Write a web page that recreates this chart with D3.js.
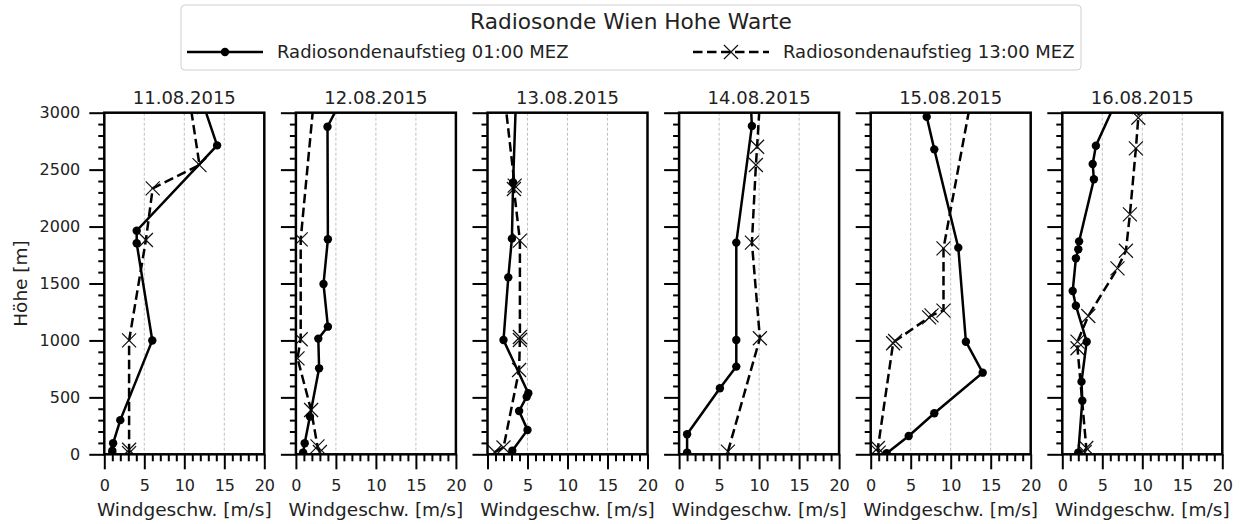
<!DOCTYPE html>
<html>
<head>
<meta charset="utf-8">
<script src="https://cdn.jsdelivr.net/npm/d3@7"></script>
<style>
  body { margin: 0; background: #fff; }
  text { font-family: "DejaVu Sans", sans-serif; fill: #222; }
</style>
</head>
<body>
<svg id="chart" width="1242" height="524"></svg>
<script>
// Radiosonde Wien Hohe Warte, Windgeschwindigkeit [m/s] gegen Höhe [m]
const days = ['11.08.2015', '12.08.2015', '13.08.2015', '14.08.2015', '15.08.2015', '16.08.2015']

// [windgeschw, hoehe] per day, Aufstieg 01:00 MEZ (points above 3000 m are clipped)
const aufstieg01 = [
  [[1.0, 10], [1.0, 32], [1.1, 97], [2.0, 300], [6.0, 1000], [4.05, 1853], [4.05, 1964], [14.1, 2713], [12.0, 3150]],
  [[0.9, 15], [1.1, 97], [1.75, 331], [2.9, 755], [2.8, 1016], [4.0, 1121], [3.45, 1496], [4.0, 1888], [3.95, 2877], [5.3, 3060]],
  [[3.1, 32], [5.0, 214], [3.95, 380], [4.9, 506], [5.1, 536], [2.0, 1004], [2.6, 1554], [3.05, 1894], [3.2, 2388], [3.55, 3100]],
  [[1.0, 15], [1.0, 176], [5.1, 580], [7.15, 770], [7.15, 1004], [7.15, 1859], [9.1, 2883], [8.95, 3100]],
  [[2.0, 9], [4.75, 161], [7.95, 360], [14.0, 717], [11.9, 989], [10.95, 1815], [7.95, 2678], [7.0, 2965], [6.8, 3100]],
  [[2.0, 15], [2.5, 471], [2.4, 638], [3.05, 989], [1.7, 1305], [1.3, 1434], [1.7, 1721], [2.0, 1800], [2.1, 1870],
   [3.95, 2415], [3.8, 2549], [4.2, 2710], [6.6, 3080]]
]

// Aufstieg 13:00 MEZ
const aufstieg13 = [
  [[3.1, 10], [3.1, 40], [3.1, 1000], [5.2, 1882], [6.05, 2336], [11.9, 2540], [10.8, 3050]],
  [[3.0, 20], [2.7, 70], [1.9, 389], [0.2, 843], [0.6, 1010], [0.6, 1888], [2.2, 3080]],
  [[0.9, 20], [2.0, 60], [3.95, 740], [4.05, 1004], [4.05, 1030], [4.05, 1876], [3.3, 2330], [3.4, 2360], [2.2, 3100]],
  [[6.1, 23], [10.1, 1019], [9.1, 1859], [9.6, 2541], [9.75, 2701], [10.1, 3100]],
  [[1.0, 15], [0.9, 55], [2.8, 975], [3.05, 995], [7.3, 1203], [7.6, 1220], [9.1, 1262], [9.1, 1809], [12.5, 3100]],
  [[2.8, 20], [3.0, 55], [1.9, 931], [1.9, 989], [3.25, 1215], [6.9, 1633], [7.95, 1788], [8.45, 2107], [9.2, 2687],
   [9.5, 2956], [9.6, 3050]]
]

const xTicks = [0, 5, 10, 15, 20]
const yTicks = [0, 500, 1000, 1500, 2000, 2500, 3000]
const legendTitle = 'Radiosonde Wien Hohe Warte'
const legendLabels = ['Radiosondenaufstieg 01:00 MEZ', 'Radiosondenaufstieg 13:00 MEZ']

const svg = d3.select('#chart')

const plotTop = 112.7, plotBottom = 454.3
const panelLeft = 104.3, panelStep = 191.6, panelW = 160

const xMarker = 'M-7,-7L7,7M-7,7L7,-7'
const dash = '9.5,4.5'

days.forEach((day, i) => {
  const left = panelLeft + i * panelStep
  const x = d3.scaleLinear().domain([0, 20]).range([left, left + panelW])
  const y = d3.scaleLinear().domain([0, 3000]).range([plotBottom, plotTop])

  const g = svg.append('g').attr('class', 'panel')

  g.append('clipPath').attr('id', `clip-${i}`)
    .append('rect')
    .attr('x', left).attr('y', plotTop)
    .attr('width', panelW).attr('height', plotBottom - plotTop)

  // grid
  g.append('g').selectAll('line')
    .data([5, 10, 15])
    .enter().append('line')
    .attr('x1', (d) => x(d)).attr('x2', (d) => x(d))
    .attr('y1', plotTop).attr('y2', plotBottom)
    .attr('stroke', '#b0b0b0')
    .attr('stroke-width', 0.8)
    .attr('stroke-dasharray', '3,2')

  // minor ticks
  const xMinor = d3.range(0, 21).filter((d) => d % 5 != 0)
  g.append('g')
    .attr('transform', `translate(0,${plotBottom})`)
    .call(d3.axisBottom(x).tickValues(xMinor).tickSize(7).tickFormat(''))
  const yMinor = d3.range(0, 3001, 100).filter((d) => d % 500 != 0)
  g.append('g')
    .attr('transform', `translate(${left},0)`)
    .call(d3.axisLeft(y).tickValues(yMinor).tickSize(6).tickFormat(''))

  // major ticks
  g.append('g')
    .attr('class', 'x-axis')
    .attr('transform', `translate(0,${plotBottom})`)
    .call(d3.axisBottom(x).tickValues(xTicks).tickSize(15).tickPadding(10))
  g.append('g')
    .attr('class', 'y-axis')
    .attr('transform', `translate(${left},0)`)
    .call(d3.axisLeft(y).tickValues(yTicks).tickSize(15).tickPadding(9)
      .tickFormat(i == 0 ? d3.format('d') : ''))

  g.selectAll('.domain').remove()
  g.selectAll('.tick line').attr('stroke', '#000').attr('stroke-width', 2)
  g.selectAll('.tick text').attr('font-size', 16).attr('font-family', '"DejaVu Sans", sans-serif').attr('fill', '#222')

  // data
  const lines = g.append('g').attr('clip-path', `url(#clip-${i})`)
  const line = d3.line().x((d) => x(d[0])).y((d) => y(d[1]))

  lines.append('path')
    .datum(aufstieg13[i])
    .attr('d', line)
    .attr('fill', 'none')
    .attr('stroke', '#000')
    .attr('stroke-width', 2.5)
    .attr('stroke-dasharray', dash)
  lines.append('g').selectAll('path')
    .data(aufstieg13[i])
    .enter().append('path')
    .attr('d', xMarker)
    .attr('transform', (d) => `translate(${x(d[0])},${y(d[1])})`)
    .attr('fill', 'none')
    .attr('stroke', '#111')
    .attr('stroke-width', 1.2)

  lines.append('path')
    .datum(aufstieg01[i])
    .attr('d', line)
    .attr('fill', 'none')
    .attr('stroke', '#000')
    .attr('stroke-width', 2.5)
  lines.append('g').selectAll('circle')
    .data(aufstieg01[i])
    .enter().append('circle')
    .attr('cx', (d) => x(d[0]))
    .attr('cy', (d) => y(d[1]))
    .attr('r', 4.2)
    .attr('fill', '#000')

  // spines
  g.append('rect')
    .attr('x', left).attr('y', plotTop)
    .attr('width', panelW).attr('height', plotBottom - plotTop)
    .attr('fill', 'none')
    .attr('stroke', '#000')
    .attr('stroke-width', 2.5)

  g.append('text')
    .attr('x', left + panelW / 2).attr('y', 104)
    .attr('text-anchor', 'middle')
    .attr('font-size', 18)
    .text(day)

  g.append('text')
    .attr('x', left + panelW / 2).attr('y', 516)
    .attr('text-anchor', 'middle')
    .attr('font-size', 18.5)
    .text('Windgeschw. [m/s]')
})

svg.append('text')
  .attr('transform', `translate(27,${(plotTop + plotBottom) / 2}) rotate(-90)`)
  .attr('text-anchor', 'middle')
  .attr('font-size', 18.5)
  .text('Höhe [m]')

// legend
const legend = svg.append('g').attr('class', 'legend')
legend.append('rect')
  .attr('x', 181).attr('y', 5)
  .attr('width', 900).attr('height', 65)
  .attr('rx', 4)
  .attr('fill', '#fff')
  .attr('stroke', '#d0d0d0')
  .attr('stroke-width', 1)

legend.append('text')
  .attr('x', 631).attr('y', 29)
  .attr('text-anchor', 'middle')
  .attr('font-size', 21.7)
  .text(legendTitle)

const handles = [{ x0: 187, text: 277 }, { x0: 693, text: 783 }]
handles.forEach((h, k) => {
  legend.append('line')
    .attr('x1', h.x0).attr('x2', h.x0 + 76)
    .attr('y1', 52).attr('y2', 52)
    .attr('stroke', '#000')
    .attr('stroke-width', 2.5)
    .attr('stroke-dasharray', k == 0 ? null : dash)
  if (k == 0) {
    legend.append('circle').attr('cx', h.x0 + 38).attr('cy', 52).attr('r', 4.2).attr('fill', '#000')
  } else {
    legend.append('path').attr('d', xMarker)
      .attr('transform', `translate(${h.x0 + 38},52)`)
      .attr('fill', 'none').attr('stroke', '#111').attr('stroke-width', 1.2)
  }
  legend.append('text')
    .attr('x', h.text).attr('y', 58)
    .attr('font-size', 18)
    .text(legendLabels[k])
})
</script>
</body>
</html>
